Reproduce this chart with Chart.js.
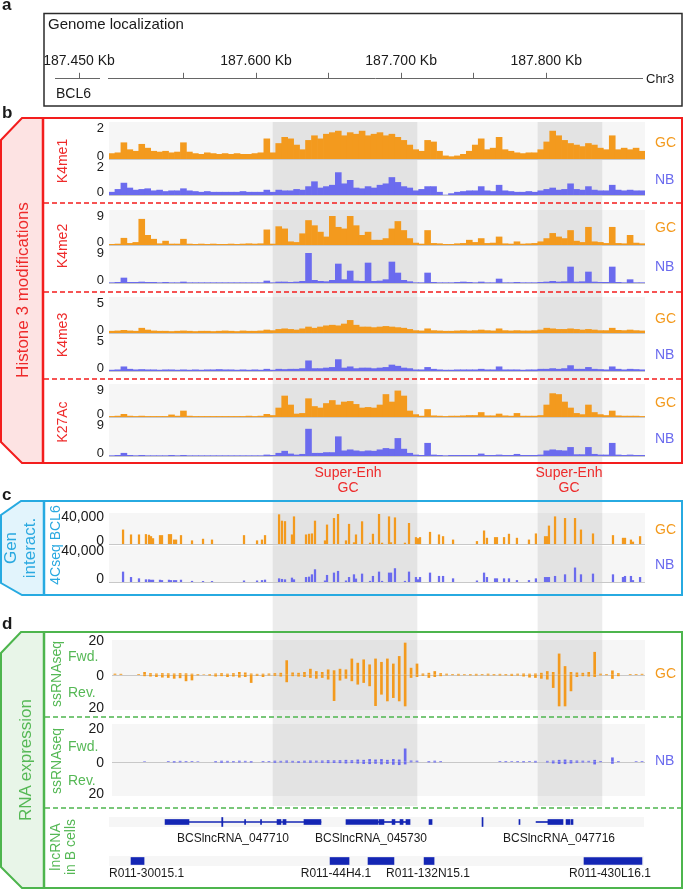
<!DOCTYPE html>
<html>
<head>
<meta charset="utf-8">
<title>BCL6 locus tracks</title>
<script src="https://cdn.jsdelivr.net/npm/chart.js@4.4.1/dist/chart.umd.min.js"></script>
<style>
  html, body { margin: 0; background: #fff; }
  #page { position: relative; width: 685px; height: 890px; overflow: hidden;
          font-family: "Liberation Sans", Arial, Helvetica, sans-serif; }
  #page canvas { position: absolute; }
  .bg { position: absolute; background: #f6f6f6; z-index: 1; }
  .lbl { position: absolute; white-space: pre; line-height: 1.1; z-index: 6; }
  #frames { position: absolute; left: 0; top: 0; z-index: 5; }
</style>
</head>
<body>
<div id="page">
<svg id="frames" width="685" height="890">
  <rect x="44" y="13.5" width="638" height="92.5" fill="none" stroke="#2b2b2b" stroke-width="1.5"/>

  <polygon points="22,118 43,118 43,463 22,463 1,442 1,140" fill="#fde3e3"/>
  <polygon points="22,118 682,118 682,463 22,463 1,442 1,140" fill="none" stroke="#f31d1d" stroke-width="2"/>
  <line x1="43" y1="118" x2="43" y2="463" stroke="#f31d1d" stroke-width="2.5"/>
  <g stroke="#f31d1d" stroke-width="1.5" stroke-dasharray="5 3">
    <line x1="44" y1="203" x2="681" y2="203"/>
    <line x1="44" y1="292" x2="681" y2="292"/>
    <line x1="44" y1="379" x2="681" y2="379"/>
  </g>

  <polygon points="21,501 44,501 44,595 22,595 1,583 1,515" fill="#e2f4fc"/>
  <polygon points="21,501 682,501 682,595 22,595 1,583 1,515" fill="none" stroke="#27aae1" stroke-width="2"/>
  <line x1="44" y1="501" x2="44" y2="595" stroke="#27aae1" stroke-width="2.5"/>

  <polygon points="21,632 44,632 44,888 22,888 1,867 1,653" fill="#e8f5e8"/>
  <polygon points="21,632 682,632 682,888 22,888 1,867 1,653" fill="none" stroke="#4db54d" stroke-width="2"/>
  <line x1="44" y1="632" x2="44" y2="888" stroke="#4db54d" stroke-width="2.5"/>
  <g stroke="#4db54d" stroke-width="1.5" stroke-dasharray="5 3">
    <line x1="45" y1="717" x2="681" y2="717"/>
    <line x1="45" y1="808" x2="681" y2="808"/>
  </g>
</svg>
</div>
<script>
// ---- data ----------------------------------------------------------------
// genomic window of the tracks, kb offsets from 187.498 Mb
const TRACK_KB = 370;

// ruler (kb)
const rulerMinKb = 187498, rulerMaxKb = 187866;
const rulerLabelKb = [187600, 187700, 187800];
const bcl6TickKb = 187450;

// super-enhancer regions (kb offsets)
const superEnhKb = [[113.2, 212.6], [296.1, 340.3]];

// histone ChIP-seq, 90 bins across the window
const k4me1GC = [0.35,0.4,1.05,0.6,0.5,0.95,0.7,0.5,0.45,0.5,
  0.4,0.45,1.05,0.45,0.35,0.3,0.4,0.35,0.3,0.35,
  0.3,0.35,0.3,0.3,0.35,0.4,1.3,0.4,1.0,1.4,
  1.3,0.9,0.6,1.2,1.5,1.3,1.6,1.7,1.8,1.5,
  1.7,1.6,1.8,1.5,1.6,1.7,1.5,1.6,1.4,1.2,
  0.9,0.6,0.5,1.2,1.1,0.5,0.2,0.15,0.2,0.3,
  0.5,0.9,1.3,0.6,0.7,1.4,0.6,0.5,0.4,0.35,
  0.4,0.4,0.6,1.1,1.8,1.5,1.2,1.0,0.9,0.8,
  1.0,0.9,0.7,0.6,1.5,0.6,0.7,0.6,0.7,0.5];
const k4me1NB = [0.2,0.4,0.85,0.5,0.35,0.4,0.45,0.3,0.35,0.25,
  0.3,0.3,0.45,0.3,0.25,0.2,0.25,0.2,0.2,0.2,
  0.2,0.2,0.25,0.2,0.2,0.2,0.35,0.2,0.35,0.3,
  0.3,0.4,0.35,0.6,0.95,0.5,0.6,0.7,1.6,0.8,
  1.05,0.5,0.45,0.6,0.5,0.7,0.8,1.25,0.9,0.6,
  0.5,0.3,0.4,0.6,0.6,0.2,0.0,0.1,0.2,0.25,
  0.3,0.3,0.6,0.3,0.25,0.7,0.3,0.25,0.2,0.2,
  0.25,0.2,0.3,0.4,0.5,0.35,0.4,0.8,0.4,0.35,
  0.6,0.35,0.3,0.3,0.7,0.35,0.3,0.35,0.3,0.3];
const k4me2GC = [0.2,0.3,2.1,0.5,0.8,8.0,3.0,1.8,0.4,1.2,
  0.3,0.3,1.8,0.3,0.2,0.3,0.2,0.3,0.2,0.2,
  0.3,0.2,0.3,0.4,0.3,0.4,4.7,0.3,5.7,5.0,
  1.0,0.8,3.5,7.6,6.0,4.0,2.5,9.0,5.5,5.0,
  9.0,6.0,3.0,4.0,1.5,1.5,2.0,5.0,7.3,4.5,
  2.0,0.6,0.3,4.5,0.5,0.4,0.2,0.2,0.4,0.5,
  1.5,0.8,2.0,0.5,0.6,2.5,0.4,0.3,1.0,0.3,
  0.4,0.5,1.0,2.0,3.6,2.5,2.0,4.5,1.2,0.8,
  5.5,1.0,0.8,0.5,5.5,0.5,0.4,3.0,0.6,0.4];
const k4me2NB = [0.1,0.2,1.5,0.2,0.2,0.3,0.2,0.2,0.1,0.2,
  0.1,0.1,0.3,0.1,0.1,0.1,0.1,0.1,0.1,0.1,
  0.1,0.1,0.1,0.1,0.1,0.1,0.6,0.1,0.3,0.3,
  0.2,0.3,0.5,9.0,0.8,0.5,0.4,0.8,5.7,1.0,
  3.6,0.6,0.5,6.0,0.5,0.6,1.0,6.3,3.0,0.8,
  0.4,0.1,0.1,3.0,0.2,0.1,0.1,0.1,0.2,0.3,
  0.2,0.1,0.3,0.1,0.1,1.2,0.1,0.1,0.2,0.1,
  0.1,0.1,0.2,0.3,0.5,0.3,0.4,4.8,0.3,0.4,
  3.3,0.3,0.2,0.2,4.8,0.2,0.1,1.0,0.1,0.1];
const k4me3GC = [0.3,0.35,0.45,0.35,0.3,0.8,0.5,0.35,0.3,0.3,
  0.25,0.3,0.35,0.3,0.25,0.3,0.3,0.25,0.3,0.35,
  0.3,0.25,0.35,0.3,0.3,0.35,0.5,0.4,0.6,0.7,
  0.6,0.5,0.7,1.0,0.8,1.0,1.2,1.3,1.2,1.5,
  2.1,1.3,1.0,1.0,0.9,1.0,1.1,1.0,0.9,0.8,
  0.6,0.4,0.35,0.7,0.4,0.35,0.3,0.3,0.35,0.4,
  0.35,0.4,0.5,0.4,0.35,0.7,0.4,0.35,0.4,0.35,
  0.35,0.4,0.5,0.8,0.7,0.6,0.6,0.7,0.6,0.5,
  0.6,0.5,0.4,0.4,0.8,0.45,0.4,0.5,0.4,0.35];
const k4me3NB = [0.15,0.2,0.7,0.3,0.2,0.25,0.2,0.2,0.15,0.2,
  0.2,0.15,0.2,0.15,0.2,0.15,0.2,0.2,0.25,0.2,
  0.2,0.15,0.2,0.15,0.2,0.15,0.3,0.15,0.3,0.25,
  0.3,0.3,0.4,1.7,0.4,0.4,0.5,0.6,1.9,0.5,
  0.7,0.4,0.5,0.5,0.4,0.5,0.6,1.0,0.8,0.5,
  0.4,0.2,0.2,0.6,0.3,0.2,0.15,0.15,0.2,0.2,
  0.2,0.2,0.3,0.2,0.2,0.7,0.2,0.2,0.2,0.15,
  0.2,0.2,0.3,0.3,0.4,0.3,0.4,0.9,0.3,0.3,
  0.6,0.3,0.25,0.2,0.7,0.3,0.2,0.3,0.25,0.2];
const k27acGC = [0.2,0.3,0.9,0.3,0.2,0.3,0.2,0.2,0.2,0.2,
  0.7,0.3,2.0,0.3,0.2,0.2,0.2,0.2,0.2,0.2,
  0.2,0.2,0.2,0.3,0.2,0.3,0.9,0.5,3.0,7.0,
  4.0,1.0,1.2,6.1,3.5,3.0,4.5,5.5,4.0,5.0,
  5.2,4.2,3.0,3.2,3.0,4.0,7.5,5.0,8.7,7.0,
  2.0,0.8,0.3,2.5,0.4,0.3,0.2,0.3,0.3,0.4,
  0.5,0.5,1.5,0.4,0.4,1.0,0.4,0.3,1.2,0.3,
  0.3,0.3,0.5,4.0,7.8,7.5,5.0,3.0,1.2,0.8,
  4.0,1.5,0.8,0.5,2.0,0.4,0.3,0.3,0.3,0.2];
const k27acNB = [0.1,0.2,0.8,0.2,0.1,0.2,0.1,0.1,0.1,0.1,
  0.2,0.1,0.2,0.1,0.1,0.1,0.1,0.1,0.1,0.1,
  0.1,0.1,0.1,0.1,0.1,0.1,0.3,0.2,0.8,1.4,
  0.6,0.3,0.5,7.8,0.8,0.8,1.0,1.0,5.6,1.5,
  1.8,1.5,1.3,1.5,1.4,1.8,2.2,2.0,5.1,2.0,
  0.8,0.3,0.2,3.7,0.3,0.2,0.1,0.2,0.2,0.2,
  0.2,0.2,0.6,0.2,0.2,0.3,0.2,0.2,0.5,0.2,
  0.2,0.2,0.3,1.5,1.8,1.6,1.5,2.5,0.4,0.4,
  2.5,0.5,0.3,0.3,3.7,0.3,0.2,0.3,0.2,0.2];

// 4C-seq viewpoint BCL6: fragment positions (kb offsets) and counts
const fourCPosKb = [9.7,15.2,20.7,25.5,27.6,29.0,30.4,35.2,36.6,41.4,
  42.8,44.9,46.3,49.7,57.3,64.9,71.1,93.2,102.2,105.6,
  107.7,117.4,119.4,121.5,126.3,127.7,136.0,138.1,140.1,142.2,
  149.1,150.5,155.3,158.1,163.6,165.7,169.1,170.5,174.7,180.2,
  182.2,186.4,188.5,193.3,194.7,197.4,204.3,207.1,211.9,213.3,
  214.7,221.6,227.8,230.6,237.5,254.0,258.9,260.9,266.5,267.8,
  272.7,276.1,281.6,289.9,294.7,301.0,302.4,303.7,307.9,314.8,
  321.7,325.8,334.1,347.9,354.8,356.2,360.3,361.7,366.6];
const fourCGC = [20700,13500,13500,14000,13000,11000,8000,12500,12500,14000,
  14000,6000,6000,12500,4800,7200,6000,12500,4800,6000,
  12500,43000,33700,33000,13500,40000,13500,14500,15000,33700,
  4800,28000,37600,44800,4800,29000,2000,13500,32800,1400,
  14500,44000,1400,40000,2000,38500,1400,30300,9600,8000,
  9600,17300,13500,11000,6000,3800,19300,8600,9600,9600,
  9600,14500,8600,6000,15000,11000,11000,26500,40000,37600,
  37600,20700,15000,12500,8600,8600,6000,3000,11000];
const fourCNB = [13000,6000,4300,3000,3000,2500,2500,2500,2000,2500,
  2000,2000,2000,2500,1000,800,800,1500,1500,2000,
  2600,4300,3500,3000,5200,3000,6000,6500,9500,16000,
  1500,8700,11700,13900,1500,6000,9500,4000,10400,1000,
  7400,13000,1000,11700,11700,17400,1000,13000,6000,3000,
  6000,11700,7400,7400,4300,1500,11700,6000,4300,4300,
  4300,4300,2000,2000,4300,6000,6000,6000,7400,9500,
  18300,9500,10400,9500,6000,7400,7400,2000,6000];

// stranded RNA-seq, 90 bins, forward (+) and reverse (-)
const rnaGCFwd = [0.5,0.4,0,0,0.3,1.5,0.8,0.6,0.8,0.7,
  0.6,0.8,0.7,0.5,0.3,0,0.3,0.6,0.8,0.5,
  0.8,1.5,1.2,0.6,0.4,0.5,0.6,0.8,1.0,8.5,
  1.2,1.0,1.5,3.4,2.0,1.5,3.0,2.5,3.4,3.0,
  9.5,7.0,9.0,6.0,9.5,7.5,9.5,6.5,11,19,
  4.0,6.5,0.6,1.0,2.0,0.8,0.5,0.3,0.4,0.2,
  0.3,0.4,0.3,0.5,0.3,0.4,0.3,0.4,0.5,0.6,
  0.5,0.6,1.0,2.0,1.5,12.5,5.0,1.5,1.2,1.0,
  1.5,13.5,0.5,0.3,2.4,0.8,0,0.3,0.3,0.4];
const rnaGCRev = [-0.3,-0.3,0,0,-0.3,-1.0,-1.2,-1.5,-1.8,-2.0,
  -2.5,-2.2,-4.0,-3.5,-0.5,-0.3,-0.6,-1.2,-1.0,-1.5,
  -1.2,-1.8,-1.5,-5.0,-0.8,-1.5,-0.6,-0.8,-1.2,-4.6,
  -1.0,-1.2,-1.5,-2.0,-2.5,-2.0,-3.0,-15.8,-3.6,-2.5,
  -4.0,-6.0,-5.0,-7.0,-18.8,-12,-16,-14,-16,-19,
  -2.0,-1.5,-0.8,-2.0,-1.5,-1.0,-0.5,-0.4,-0.6,-0.4,
  -0.5,-0.6,-0.4,-0.6,-0.5,-0.6,-0.5,-0.8,-0.6,-1.2,
  -1.8,-2.0,-2.5,-3.0,-8.0,-19,-19,-10,-1.5,-1.0,
  -1.2,-1.5,-0.5,-0.4,-2.6,-1.0,0,-0.3,-0.3,-0.3];
const rnaNBFwd = [0,0,0,0,0,0.2,0,0,0,0.3,
  0.3,0.4,0.3,0.3,0.2,0,0,0.3,0.5,0.4,
  0.3,0.5,0.4,0.3,0,0.3,0.3,0.5,0.4,0.6,
  0.4,0.3,0.5,0.6,0.5,0.6,0.8,0.7,0.8,1.0,
  0.8,1.2,1.0,1.5,1.2,1.5,1.0,1.5,1.2,8.0,
  0.6,0.5,0,0.3,0.5,0.3,0,0,0,0,
  0,0,0,0,0,0.3,0.3,0.2,0.3,0.3,
  0.3,0.4,0,0.4,0.6,1.0,1.2,0.8,0.6,0.5,
  0.4,1.0,0.3,0,2.5,0.3,0,0,0.2,0.3];
const rnaNBRev = [0,0,0,0,0,-0.2,0,0,0,-0.3,
  -0.6,-0.5,-0.4,-0.3,-0.2,0,0,-0.5,-0.8,-0.6,
  -0.5,-0.6,-0.5,-0.6,0,-0.4,-0.4,-0.8,-0.6,-0.7,
  -0.6,-0.8,-0.7,-0.8,-0.6,-0.8,-1.0,-0.9,-1.0,-1.2,
  -1.0,-1.3,-1.5,-1.6,-1.4,-1.8,-1.5,-2.0,-2.2,-1.8,
  -0.5,-0.4,0,-0.5,-0.6,-0.4,0,0,0,0,
  0,0,0,0,0,-0.3,-0.4,-0.3,-0.4,-0.5,
  -0.3,-0.6,0,-0.6,-1.2,-1.5,-1.6,-1.2,-0.8,-0.6,
  -0.5,-1.8,-0.4,0,-1.4,-0.4,0,0,-0.3,-0.3];

// lncRNA annotation (kb offsets)
const lncIntrons = [[55.2,146.3],[185.7,205.0],[294.8,303.0]];
const lncExons = [[38.7,55.2],[93.6,94.3],[104.6,105.3],[116.0,118.7],[120.1,122.2],[134.6,146.3],
  [163.6,185.7],[186.4,189.8],[195.4,197.4],[200.9,203.0],[205.0,207.8],[220.9,223.0],
  [283.0,283.7],[303.0,313.4],[315.5,318.2],[318.9,320.3]];
const lncTicks = [[77.8,78.6],[257.5,258.2]];
const cloneBlocks = [[15.2,24.2],[152.6,165.7],[178.8,196.7],[217.5,224.4],[327.9,367.9]];

// ---- helpers -------------------------------------------------------------
const page = document.getElementById('page');
const FONT = '"Liberation Sans", Arial, Helvetica, sans-serif';
const ORANGE = '#f39a1e', PURPLE = '#6b6bee';
const RED = '#ee2a2a', BLUE = '#2aa9e0', GREEN = '#55b855';
const CANVAS_LEFT = 60, TRACK_RIGHT = 645, LABEL_RIGHT = 104;

function txt(s, x, y, o = {}) {
  const d = document.createElement('div');
  d.className = 'lbl';
  d.textContent = s;
  d.style.left = x + 'px';
  d.style.top = y + 'px';
  d.style.fontSize = (o.size || 14) + 'px';
  d.style.color = o.color || '#1a1a1a';
  if (o.bold) d.style.fontWeight = 'bold';
  d.style.textAlign = 'center';
  if (o.rot) d.style.transform = 'translate(-50%,-50%) rotate(-90deg)';
  else d.style.transform = 'translate(' + (o.align === 'center' ? '-50%' : o.align === 'right' ? '-100%' : '0') + ',-50%)';
  page.appendChild(d);
}

function box(cls, left, top, w, h) {
  const d = document.createElement('div');
  d.className = cls;
  d.style.cssText += `left:${left}px;top:${top}px;width:${w}px;height:${h}px;`;
  page.appendChild(d);
}

function mkCanvas(left, top, w, h, z) {
  const c = document.createElement('canvas');
  c.width = w; c.height = h;
  c.style.cssText = `left:${left}px;top:${top}px;width:${w}px;height:${h}px;z-index:${z}`;
  page.appendChild(c);
  return c;
}

const rangeLabels = {
  id: 'rangeLabels',
  afterDraw(chart, args, opts) {
    const { ctx, scales: { y } } = chart;
    ctx.save();
    ctx.font = (opts.size || 13) + 'px ' + FONT;
    ctx.fillStyle = '#1a1a1a';
    ctx.textAlign = 'right';
    (opts.items || []).forEach(it => {
      ctx.textBaseline = it.b || 'middle';
      ctx.fillText(it.t, LABEL_RIGHT - CANVAS_LEFT, y.getPixelForValue(it.v) + (it.dy || 0));
    });
    ctx.restore();
  }
};

const zeroLine = {
  id: 'zeroLine',
  beforeDatasetsDraw(chart) {
    const { ctx, chartArea, scales: { y } } = chart;
    const py = Math.round(y.getPixelForValue(0)) + 0.5;
    ctx.save();
    ctx.strokeStyle = '#c8c8c8';
    ctx.lineWidth = 1;
    ctx.beginPath();
    ctx.moveTo(chartArea.left, py);
    ctx.lineTo(chartArea.right, py);
    ctx.stroke();
    ctx.restore();
  }
};

const baseOpts = {
  responsive: false, animation: false, events: [],
};

function signalTrack(t) {
  const m = 8;
  const top = t.bgTop - m;
  const h = t.bgBottom - t.bgTop + 2 * m;
  box('bg', t.left, t.bgTop, TRACK_RIGHT - t.left, t.bgBottom - t.bgTop);
  const c = mkCanvas(CANVAS_LEFT, top, TRACK_RIGHT - CANVAS_LEFT, h, 3);
  const xScale = t.linear
    ? { type: 'linear', display: false, min: 0, max: TRACK_KB, offset: false, stacked: true }
    : { display: false, stacked: true };
  const data = t.linear ? { datasets: t.datasets }
    : { labels: t.datasets[0].data.map((_, i) => i), datasets: t.datasets };
  new Chart(c, {
    type: 'bar',
    data,
    options: {
      ...baseOpts,
      layout: { padding: { left: t.left - CANVAS_LEFT, right: 0,
        top: t.areaTop - top, bottom: top + h - t.areaBottom } },
      scales: { x: xScale, y: { display: false, min: t.min, max: t.max, stacked: true } },
      plugins: { legend: { display: false }, tooltip: { enabled: false },
        rangeLabels: { items: t.labels, size: t.labelSize } }
    },
    plugins: [zeroLine, rangeLabels]
  });
}

function fillBars(values, color, pct) {
  return { data: values, backgroundColor: color, borderWidth: 0,
    barPercentage: pct, categoryPercentage: 1 };
}

// ---- section a: ruler ---------------------------------------------------
txt('a', 2, 5, { bold: true, size: 17 });
txt('Genome localization', 48, 24, { size: 15 });

function ruler(left, w, padL, padR, min, max, afterBuild, labelFn) {
  // tall canvas so the top axis gets its full height; axis line lands near y=78
  const c = mkCanvas(left, 50, w, 64, 3);
  new Chart(c, {
    type: 'scatter',
    data: { datasets: [{ data: [] }] },
    options: {
      ...baseOpts,
      layout: { padding: { left: padL, right: padR, top: 0, bottom: 0 } },
      scales: {
        x: { type: 'linear', position: 'top', min, max, afterBuildTicks: afterBuild,
          ticks: { callback: labelFn, autoSkip: false, maxRotation: 0, padding: 3,
            color: '#1a1a1a', font: { family: FONT, size: 14 } },
          grid: { drawOnChartArea: false, tickLength: 6, color: '#666', lineWidth: 1 },
          border: { display: true, color: '#666', width: 1 } },
        y: { display: false }
      },
      plugins: { legend: { display: false }, tooltip: { enabled: false } }
    }
  });
}
const kbLabel = v => (v / 1000).toFixed(3) + ' Kb';
ruler(40, 640, 68, 38, rulerMinKb, rulerMaxKb,
  s => { s.ticks = s.ticks.filter(t => t.value % 50 === 0); },
  v => rulerLabelKb.includes(v) ? kbLabel(v) : '');
// short BCL6 segment left of the axis break
ruler(0, 200, 55, 101, bcl6TickKb - 16.6, bcl6TickKb + 13.8,
  s => { s.ticks = [{ value: bcl6TickKb }]; },
  v => kbLabel(v));
txt('Chr3', 646, 79, { size: 13 });
txt('BCL6', 56, 94, { size: 14 });

// ---- super-enhancer shading ----------------------------------------------
(function () {
  const c = mkCanvas(109, 122, 536, 684, 2);
  new Chart(c, {
    type: 'bar',
    data: { labels: ['se'], datasets: [{
      data: superEnhKb.map(r => ({ x: r, y: 'se' })),
      backgroundColor: 'rgba(0,0,0,0.075)', borderWidth: 0,
      barPercentage: 1, categoryPercentage: 1, grouped: false }] },
    options: {
      ...baseOpts, indexAxis: 'y',
      scales: { x: { type: 'linear', display: false, min: 0, max: TRACK_KB, offset: false },
        y: { display: false } },
      plugins: { legend: { display: false }, tooltip: { enabled: false } }
    }
  });
})();

// ---- section b: histone marks -------------------------------------------
txt('b', 2, 113, { bold: true, size: 17 });
const histSeries = [k4me1GC, k4me1NB, k4me2GC, k4me2NB, k4me3GC, k4me3NB, k27acGC, k27acNB];
const histMax = [2, 2, 9, 9, 5, 5, 9, 9];
const histLayout = [
  { bgTop: 122, areaTop: 128, base: 159 }, { bgTop: 159, areaTop: 167, base: 195 },
  { bgTop: 210, areaTop: 216, base: 245 }, { bgTop: 245, areaTop: 253, base: 283 },
  { bgTop: 297, areaTop: 303, base: 333 }, { bgTop: 333, areaTop: 341, base: 371 },
  { bgTop: 384, areaTop: 390, base: 417 }, { bgTop: 417, areaTop: 425, base: 456 }
];
histSeries.forEach((vals, i) => {
  const L = histLayout[i];
  signalTrack({
    left: 109, bgTop: L.bgTop, bgBottom: L.base, areaTop: L.areaTop, areaBottom: L.base,
    min: 0, max: histMax[i], labelSize: 13,
    labels: [{ v: histMax[i], t: String(histMax[i]) }, { v: 0, t: '0', b: 'alphabetic', dy: 1 }],
    datasets: [fillBars(vals, i % 2 ? PURPLE : ORANGE, 1)]
  });
});
txt('Histone 3 modifications', 23, 290, { rot: true, size: 17, color: RED });
[['K4me1', 161], ['K4me2', 246], ['K4me3', 335], ['K27Ac', 422]].forEach(([s, y]) =>
  txt(s, 63, y, { rot: true, size: 14, color: RED }));
[143, 180, 228, 267, 319, 355, 403, 439].forEach((y, i) =>
  txt(i % 2 ? 'NB' : 'GC', 655, y, { size: 14, color: i % 2 ? PURPLE : ORANGE }));
[348, 569].forEach(x => {
  txt('Super-Enh', x, 473, { align: 'center', size: 14, color: RED });
  txt('GC', x, 488, { align: 'center', size: 14, color: RED });
});

// ---- section c: 4C-seq --------------------------------------------------
txt('c', 2, 495, { bold: true, size: 17 });
[[fourCGC, ORANGE, 513, 514, 544], [fourCNB, PURPLE, 546, 548, 582]].forEach(([vals, col, bgTop, areaTop, base]) => {
  signalTrack({
    left: 109, bgTop, bgBottom: base, areaTop, areaBottom: base, linear: true,
    min: 0, max: 44000, labelSize: 14,
    labels: [{ v: 40000, t: '40,000' }, { v: 0, t: '0', b: 'alphabetic', dy: 1 }],
    datasets: [{ data: fourCPosKb.map((p, k) => ({ x: p, y: vals[k] })),
      backgroundColor: col, borderWidth: 0, barThickness: 1.6 }]
  });
});
txt('Gen\ninteract.', 21, 548, { rot: true, size: 17, color: BLUE });
txt('4Cseq BCL6', 56, 545, { rot: true, size: 14, color: BLUE });
txt('GC', 655, 530, { size: 14, color: ORANGE });
txt('NB', 655, 565, { size: 14, color: PURPLE });

// ---- section d: RNA-seq and lncRNA ----------------------------------------
txt('d', 2, 624, { bold: true, size: 17 });
[[rnaGCFwd, rnaGCRev, ORANGE, 640, 710, 641, 708], [rnaNBFwd, rnaNBRev, PURPLE, 724, 796, 729, 794]]
  .forEach(([f, r, col, bgTop, bgBottom, areaTop, areaBottom]) => {
    signalTrack({
      left: 112, bgTop, bgBottom, areaTop, areaBottom, min: -20, max: 20, labelSize: 14,
      labels: [{ v: 20, t: '20' }, { v: 0, t: '0', dy: 2 }, { v: -20, t: '20' }],
      datasets: [fillBars(f, col, 0.45), fillBars(r, col, 0.45)]
    });
  });
txt('RNA expression', 26, 760, { rot: true, size: 17, color: GREEN });
txt('ssRNAseq', 57, 674, { rot: true, size: 14, color: GREEN });
txt('ssRNAseq', 57, 761, { rot: true, size: 14, color: GREEN });
txt('Fwd.', 68, 657, { size: 14, color: GREEN });
txt('Rev.', 68, 693, { size: 14, color: GREEN });
txt('Fwd.', 68, 747, { size: 14, color: GREEN });
txt('Rev.', 68, 781, { size: 14, color: GREEN });
txt('GC', 655, 674, { size: 14, color: ORANGE });
txt('NB', 655, 761, { size: 14, color: PURPLE });
txt('lncRNA\nin B cells', 63, 847, { rot: true, size: 14, color: GREEN });

function geneRow(top, datasets) {
  box('bg', 109, top + 6, 535, 10);
  const c = mkCanvas(109, top, 536, 22, 3);
  new Chart(c, {
    type: 'bar',
    data: { labels: ['g'], datasets },
    options: {
      ...baseOpts, indexAxis: 'y',
      scales: { x: { type: 'linear', display: false, min: 0, max: TRACK_KB, offset: false },
        y: { display: false } },
      plugins: { legend: { display: false }, tooltip: { enabled: false } }
    }
  });
}
const GENE = '#1426b4';
const feat = (arr, th) => ({ data: arr.map(r => ({ x: r, y: 'g' })), backgroundColor: GENE,
  borderWidth: 0, barThickness: th, grouped: false });
geneRow(811, [feat(lncIntrons, 1), feat(lncExons, 5), feat(lncTicks, 9)]);
geneRow(850, [feat(cloneBlocks, 7)]);
txt('BCSlncRNA_047710', 233, 839, { align: 'center', size: 12 });
txt('BCSlncRNA_045730', 371, 839, { align: 'center', size: 12 });
txt('BCSlncRNA_047716', 559, 839, { align: 'center', size: 12 });
txt('R011-30015.1', 109, 874, { size: 12 });
txt('R011-44H4.1', 336, 874, { align: 'center', size: 12 });
txt('R011-132N15.1', 428, 874, { align: 'center', size: 12 });
txt('R011-430L16.1', 610, 874, { align: 'center', size: 12 });
</script>
</body>
</html>
